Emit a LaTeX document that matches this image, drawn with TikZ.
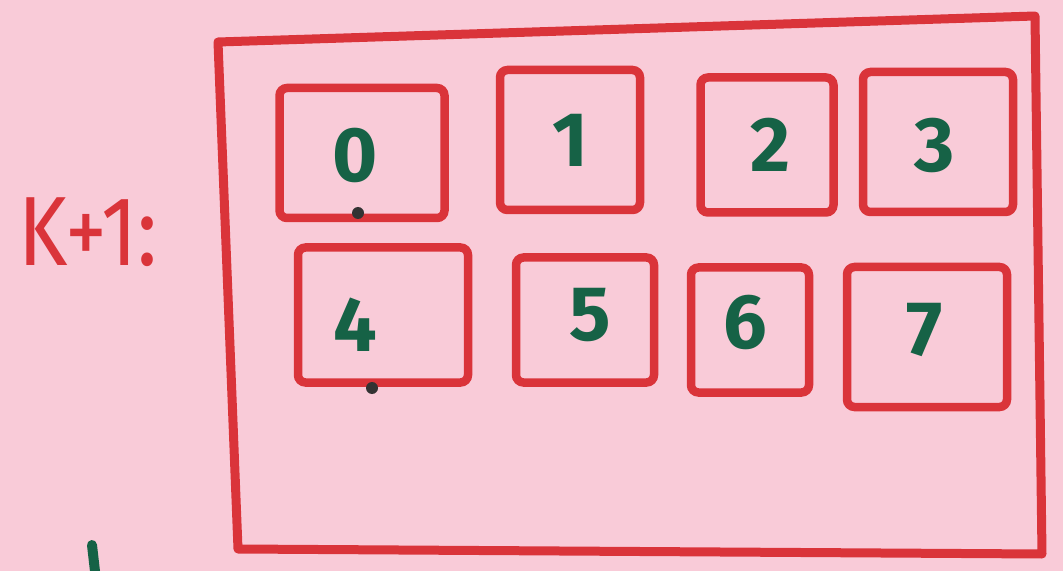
\documentclass[tikz,border=0pt]{standalone}
\usepackage{fontspec}
\setmainfont{Fira Sans}
\definecolor{paper}{RGB}{249,203,216}
\definecolor{marker}{RGB}{218,52,58}
\definecolor{ink}{RGB}{22,98,70}
\begin{document}
\begin{tikzpicture}[
    x=0.2mm, y=-0.2mm,
    slot/.style={rectangle, draw=marker, line width=1.7mm, rounded corners=1.5mm, inner sep=0pt},
    digit/.style={text=ink, font=\fontsize{44}{48}\selectfont\bfseries, inner sep=0pt},
    dot/.style={circle, fill=black!80, inner sep=0pt, minimum size=2.4mm}
]
    \fill [paper] (0,0) rectangle (1063,571);
    \useasboundingbox (0,0) rectangle (1063,571);

    \node [text=marker, font=\fontsize{56}{60}\selectfont, xscale=0.85, transform shape] (label) at (88,232) {K+1:};

    % outer block
    \draw [marker, line width=1.8mm, line join=round] (218,42) -- (1035,16) -- (1042,554) -- (238,549) -- cycle;

    % slots 0..7: centre x, centre y, width, height, digit x, digit y
    \foreach \n/\cx/\cy/\w/\h/\dx/\dy in {
        0/362/153/165/130/355/155, 1/570/140/140/140/570/140,
        2/767/145/133/135/770/145, 3/938/142/150/140/935/145,
        4/383/315/170/135/355/325, 5/585/320/138/125/590/315,
        6/750/330/118/125/745/322, 7/927/337/160/140/925/330} {
        \node [slot, minimum width=\w*0.2mm, minimum height=\h*0.2mm] (slot\n) at (\cx,\cy) {};
        \node [digit] (num\n) at (\dx,\dy) {\n};
    }

    \node [dot] (mark0) at (358,213) {};
    \node [dot] (mark4) at (372,388) {};

    \draw [ink, line width=2mm, line cap=round] (92,545) -- (96,580);
\end{tikzpicture}
\end{document}
